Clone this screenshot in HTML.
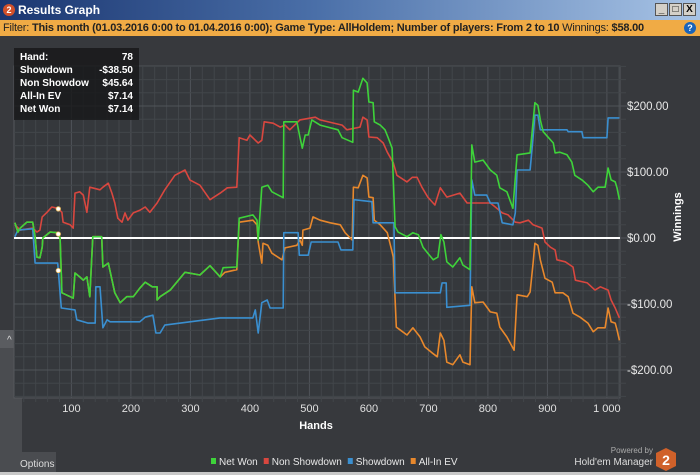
<!DOCTYPE html>
<html><head><meta charset="utf-8">
<style>
*{margin:0;padding:0;box-sizing:border-box}
body{width:700px;height:475px;overflow:hidden;background:#37393d;font-family:"Liberation Sans",sans-serif;position:relative}
#title{position:absolute;left:0;top:0;width:700px;height:20px;background:linear-gradient(90deg,#1b3670 0%,#4a6fa8 45%,#a8c4e6 100%);color:#fff;font-size:12px;font-weight:bold;line-height:20px;padding-left:18px}
#filter{position:absolute;left:0;top:20px;width:700px;height:16px;background:#f0ab45;color:#222;font-size:11px;line-height:16px;padding-left:3px;white-space:nowrap;letter-spacing:-0.2px}
.wb{position:absolute;top:3px;width:13px;height:13px;background:#d4d0c8;border:1px solid #555;font-size:10px;line-height:11px;text-align:center;color:#000;font-weight:bold}
#tip{position:absolute;left:14px;top:48px;width:125px;height:72px;background:rgba(22,22,24,0.8);color:#fff;font-size:10px;font-weight:bold;padding:3px 6px}
#tip div{display:flex;justify-content:space-between;height:13px;line-height:13px}
</style></head><body>
<div id="title">Results Graph</div>
<div style="position:absolute;left:3px;top:4px;width:12px;height:12px;border-radius:50%;background:#d2502a;color:#fff;font-size:9px;font-weight:bold;text-align:center;line-height:12px">2</div>
<div class="wb" style="left:655px">_</div>
<div class="wb" style="left:669px">□</div>
<div class="wb" style="left:683px">X</div>
<div id="filter">Filter: <b>This month (01.03.2016 0:00 to 01.04.2016 0:00); Game Type: AllHoldem; Number of players: From 2 to 10</b> Winnings: <b>$58.00</b></div>
<div style="position:absolute;left:684px;top:22px;width:12px;height:12px;border-radius:50%;background:#1b64b8;color:#fff;font-size:9px;font-weight:bold;text-align:center;line-height:12px">?</div>

<svg id="chart" width="700" height="475" style="position:absolute;left:0;top:0" xmlns="http://www.w3.org/2000/svg">
<rect x="0" y="330" width="22" height="145" fill="#4a4c50"/>
<rect x="0" y="330" width="22" height="18" fill="#5a5c60"/>
<text x="7" y="343" fill="#ddd" font-size="10">^</text>
<rect x="0" y="452" width="56" height="23" fill="#4a4c50"/>
<text x="20" y="467" fill="#ddd" font-size="10" font-family="Liberation Sans">Options</text>
<g id="grid"></g>
<g id="series"></g>
<g id="axes"></g>
</svg>

<div id="tip">
<div><span>Hand:</span><span>78</span></div>
<div><span>Showdown</span><span>-$38.50</span></div>
<div><span>Non Showdow</span><span>$45.64</span></div>
<div><span>All-In EV</span><span>$7.14</span></div>
<div><span>Net Won</span><span>$7.14</span></div>
</div>

<script>
const xTicks=[100,200,300,400,500,600,700,800,900,1000];
const xTickLabels=["100","200","300","400","500","600","700","800","900","1 000"];
const yTicks=[200,100,0,-100,-200];
const yTickLabels=["$200.00","$100.00","$0.00","-$100.00","-$200.00"];
const seriesNames=["Net Won","Non Showdown","Showdown","All-In EV"];
const seriesColors=["#3ed33a","#d9473f","#3a8fd0","#e8882c"];
const netWonHands=[5,10,14,25,35,39,42,47,51,52,64,77,81,84,98,103,106,114,120,126,131,136,151,153,162,173,182,193,204,215,224,236,244,244,249,266,291,316,333,350,355,378,382,405,412,414,420,430,437,456,457,479,484,488,493,498,504,518,548,555,573,574,582,590,597,600,607,609,619,627,632,639,644,649,664,674,683,691,699,708,716,721,726,731,741,753,758,770,773,778,792,804,815,820,832,842,849,871,876,879,884,888,893,910,913,921,933,941,946,958,968,977,985,997,1002,1007,1014,1017,1021];
const netWonValues=[23,9,15,24,24,2,-29,-30,-14,0,9,8,0,-83,-89,-91,-53,-59,-64,-59,-89,2,2,-44,-38,-83,-98,-89,-89,-76,-67,-74,-74,-94,-89,-79,-52,-56,-42,-59,-45,-44,30,35,27,-3,77,80,70,61,176,176,153,136,156,156,179,171,164,152,145,224,221,242,235,206,205,176,171,164,153,136,17,9,2,8,5,-14,-23,-33,-29,5,-6,-36,-44,-30,-41,-48,141,115,118,103,95,76,70,45,126,129,176,205,201,179,161,144,129,130,126,115,95,88,80,70,77,77,106,88,85,76,58];
const nonShowdownHands=[5,14,35,42,47,51,59,67,77,84,86,98,103,106,114,120,126,131,148,153,162,168,173,178,185,190,195,204,215,224,232,244,257,274,291,299,316,333,350,362,378,382,395,400,414,420,424,439,451,459,467,484,510,518,555,563,585,590,597,600,614,624,631,641,647,664,673,681,689,699,711,720,731,753,765,804,815,824,834,846,854,868,876,891,896,905,913,916,930,943,947,967,980,989,1002,1007,1014,1021];
const nonShowdownValues=[20,12,15,9,12,32,39,47,45,39,24,20,15,68,70,65,39,77,73,77,83,68,53,30,24,38,27,38,42,47,39,53,73,95,103,88,80,58,68,76,77,152,148,156,144,148,176,174,168,171,164,179,183,179,171,164,168,183,179,153,152,144,130,114,95,85,92,92,77,62,50,76,62,68,53,53,45,38,35,24,23,27,20,15,-6,-14,-18,-33,-36,-44,-64,-68,-79,-74,-79,-94,-106,-121];
const showdownHands=[5,10,35,39,77,83,106,109,128,140,141,148,153,160,165,215,224,237,242,249,257,350,405,409,414,420,429,434,456,457,481,483,498,503,548,553,573,575,605,607,642,644,720,723,730,731,770,773,778,798,804,817,824,842,846,849,871,876,879,884,888,933,935,958,960,1000,1002,1021];
const showdownValues=[2,12,14,-38,-38,-106,-109,-124,-129,-129,-74,-74,-136,-124,-127,-127,-120,-117,-144,-144,-132,-121,-121,-109,-144,-98,-94,-106,-106,8,8,-26,-26,-6,-6,-18,-18,58,55,23,23,-83,-83,-68,-68,-105,-102,88,65,65,53,53,23,20,38,103,103,153,186,186,164,164,161,161,152,152,182,182];
const allInHands=[358,378,382,405,412,414,420,422,430,437,454,459,479,484,488,489,501,506,518,535,552,560,572,574,582,590,597,600,607,609,619,631,639,641,646,652,664,674,686,694,706,715,720,726,731,741,753,758,770,773,778,792,804,815,820,832,844,849,866,871,876,879,884,888,896,908,913,926,935,943,955,968,977,985,997,1002,1007,1014,1017,1021];
const allInValues=[-52,-48,24,27,20,-6,-38,-8,-11,-23,-33,-15,-11,-3,-11,12,15,32,27,23,20,8,-3,77,76,95,91,62,61,27,20,8,-21,-29,-135,-139,-147,-136,-150,-165,-174,-180,-144,-155,-188,-192,-177,-188,-192,-74,-98,-97,-112,-114,-135,-150,-170,-86,-89,-82,-38,-8,-11,-33,-61,-67,-83,-83,-89,-114,-120,-129,-142,-136,-136,-106,-127,-129,-139,-155];
const tipHand=78;

const NS="http://www.w3.org/2000/svg";
const L=14,R=620,T=66,B=398;
function xs(h){return 11.9+0.595*h;}
function ys(v){return 238-0.66*v;}
function mk(tag,attrs,parent){const e=document.createElementNS(NS,tag);for(const k in attrs)e.setAttribute(k,attrs[k]);parent.appendChild(e);return e;}
const grid=document.getElementById('grid'),axes=document.getElementById('axes'),ser=document.getElementById('series');
const bg=mk('rect',{x:L,y:T,width:R-L,height:B-T,fill:'#35383c',stroke:'#55585d'},grid);


for(let h=0;h<=1020;h+=20){const x=xs(h);if(x<L||x>R)continue;mk('line',{x1:x,x2:x,y1:T,y2:B+(h%100===0?0:4),stroke:h%100===0?'#505459':'#42464a','stroke-width':1},grid);}
for(let v=-240;v<=260;v+=20){const y=ys(v);if(y<T||y>B)continue;mk('line',{x1:L,x2:R+(v%100===0?20:6),y1:y,y2:y,stroke:v%100===0?'#505459':'#42464a','stroke-width':1},grid);}
xTicks.forEach((t,i)=>{const tx=mk('text',{x:xs(t),y:412,fill:'#e0e0e0','font-size':11,'text-anchor':'middle'},axes);tx.textContent=xTickLabels[i];

});
yTicks.forEach((t,i)=>{const tx=mk('text',{x:627,y:ys(t)+4,fill:'#e8e8e8','font-size':11.5},axes);tx.textContent=yTickLabels[i];

});
const xt=mk('text',{x:316,y:429,fill:'#fff','font-size':11,'font-weight':'bold','text-anchor':'middle'},axes);xt.textContent='Hands';


const yt=mk('text',{x:0,y:0,fill:'#fff','font-size':11,'font-weight':'bold','text-anchor':'middle',transform:'translate(681,217) rotate(-90)'},axes);yt.textContent='Winnings';


const zl=mk('line',{x1:L,x2:R,y1:ys(0),y2:ys(0),stroke:'#fff','stroke-width':2},ser);


const orangeH=netWonHands.filter(h=>h<=350).concat(allInHands);
const orangeV=netWonValues.filter((v,i)=>netWonHands[i]<=350).concat(allInValues);
const all=[[orangeH,orangeV,3,'all-in-ev-line'],[nonShowdownHands,nonShowdownValues,1,'non-showdown-line'],[showdownHands,showdownValues,2,'showdown-line'],[netWonHands,netWonValues,0,'net-won-line']];
all.forEach(([hs,vs,ci,name])=>{const pts=hs.map((h,i)=>xs(h).toFixed(1)+','+ys(vs[i]).toFixed(1)).join(' ');
const p=mk('polyline',{points:pts,fill:'none',stroke:seriesColors[ci],'stroke-width':1.6,'stroke-linejoin':'round'},ser);

});
function valAt(hs,vs,h){for(let i=1;i<hs.length;i++){if(hs[i]>=h){const t=(h-hs[i-1])/((hs[i]-hs[i-1])||1);return vs[i-1]+t*(vs[i]-vs[i-1]);}}return vs[vs.length-1];}
[[nonShowdownHands,nonShowdownValues],[netWonHands,netWonValues],[showdownHands,showdownValues]].forEach(([hs,vs])=>{
const c=mk('circle',{cx:xs(tipHand),cy:ys(valAt(hs,vs,tipHand)),r:2.2,fill:'#fff',stroke:'#f0c060','stroke-width':0.8},ser);

});
let lx=211;
seriesNames.forEach((n,i)=>{const r=mk('rect',{x:lx,y:458,width:5,height:6,fill:seriesColors[i]},axes);


const t=mk('text',{x:lx+8,y:465,fill:'#e8e8e8','font-size':10,textLength:0},axes);t.removeAttribute('textLength');t.textContent=n;


lx+=8+t.getComputedTextLength()+6;});
const pw=mk('text',{x:653,y:453,fill:'#aaa','font-size':8,'text-anchor':'end'},axes);pw.textContent='Powered by';


const hm=mk('text',{x:653,y:465,fill:'#ddd','font-size':10,'text-anchor':'end'},axes);hm.textContent="Hold'em Manager";


const hex=mk('polygon',{points:'666,448 676,453 676,466 666,471 656,466 656,453',fill:'#d0612a'},axes);


const h2=mk('text',{x:666,y:465,fill:'#fff','font-size':14,'font-weight':'bold','text-anchor':'middle'},axes);h2.textContent='2';
mk('rect',{x:0,y:472,width:700,height:3,fill:'#c8c8c8'},axes);
</script>
</body></html>
